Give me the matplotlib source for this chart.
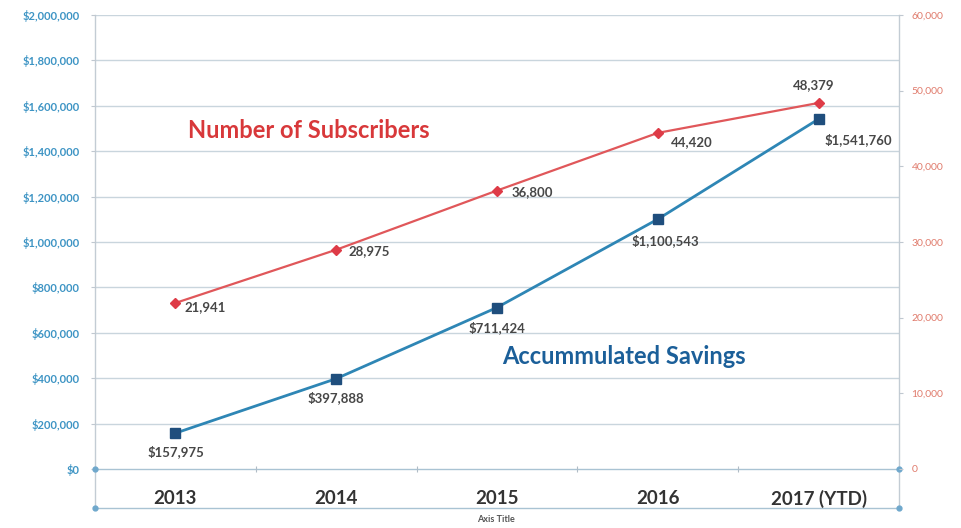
import matplotlib
matplotlib.use("Agg")
import matplotlib.pyplot as plt
from matplotlib.ticker import FuncFormatter

categories = ["2013", "2014", "2015", "2016", "2017 (YTD)"]
savings = [157975, 397888, 711424, 1100543, 1541760]
subscribers = [21941, 28975, 36800, 44420, 48379]
left_ticks = list(range(0, 2000001, 200000))
right_ticks = list(range(0, 60001, 10000))

plt.rcParams['font.family'] = ['Lato', 'DejaVu Sans']

fig = plt.figure(figsize=(9.61, 5.28), dpi=100)
ax = fig.add_axes([95/961, 1-469/528, (899-95)/961, (469-15)/528])
ax2 = ax.twinx()

x = list(range(len(categories)))
ax.set_xlim(-0.5, len(categories) - 0.5)
ax.set_ylim(0, 2000000)
ax2.set_ylim(0, 60000)

grid_c = "#c9d5dd"
ax.set_yticks(left_ticks)
ax.yaxis.set_major_formatter(FuncFormatter(lambda v, p: "$0" if v == 0 else f"${int(v):,}"))
ax.tick_params(axis='y', colors="#c0c8d0", labelcolor="#3d94c4", labelsize=8, length=3, width=0.8, pad=8)
for lab in ax.get_yticklabels():
    lab.set_fontweight('bold')
for t in left_ticks[1:]:
    ax.axhline(t, color=grid_c, lw=1.0, zorder=0)

ax2.set_yticks(right_ticks)
ax2.yaxis.set_major_formatter(FuncFormatter(lambda v, p: f"{int(v):,}"))
ax2.tick_params(axis='y', colors="#c0c8d0", labelcolor="#e07b6c", labelsize=7.5, length=3, width=0.8, pad=6)

ax.set_xticks(x)
ax.set_xticklabels(categories, fontsize=13.5, fontweight='bold', color="#333333")
ax.tick_params(axis='x', length=0, pad=15)
ax.set_xticks([i + 0.5 for i in x[:-1]], minor=True)
ax.tick_params(axis='x', which='minor', length=4, direction='inout', color="#b0bcc6", width=0.8)

for a in (ax, ax2):
    for s in a.spines.values():
        s.set_visible(False)

# frame lines in axes coordinates
line_c = "#a9c3d3"
yb = -39/454
for yy in (0, yb):
    ax.plot([0, 1], [yy, yy], transform=ax.transAxes, color=line_c, lw=1.0, clip_on=False, zorder=1)
    ax.plot([0, 1], [yy, yy], transform=ax.transAxes, ls='none', marker='o', ms=3.5,
            color="#6fa8cc", clip_on=False, zorder=2)
for xx in (0, 1):
    ax.plot([xx, xx], [yb, 1], transform=ax.transAxes, color="#c3ccd4", lw=1.0, clip_on=False, zorder=1)

# series
ax.plot(x, savings, color="#2e86b5", lw=2.0, marker='s', ms=6.5, mfc="#1f4e7d", mec="#1f4e7d", zorder=4)
ax2.plot(x, subscribers, color="#e0575a", lw=1.6, marker='D', ms=5, mfc="#de3b47", mec="#de3b47", zorder=4)

lab_c = "#474747"
sub_off = [(30, -4), (33, -1), (35, -2), (34, -9), (-5, 18)]
for xi, v, off in zip(x, subscribers, sub_off):
    ax2.annotate(f"{v:,}", (xi, v), xytext=off, textcoords='offset pixels', ha='center', va='center',
                 fontsize=9.5, fontweight='bold', color=lab_c)
sav_off = [(0, -18), (0, -19), (0, -20), (8, -21), (40, -21)]
for xi, v, off in zip(x, savings, sav_off):
    ax.annotate(f"${v:,}", (xi, v), xytext=off, textcoords='offset pixels', ha='center', va='center',
                fontsize=9.5, fontweight='bold', color=lab_c)

fig.text(309/961, 1-131/528, "Number of Subscribers", fontsize=17, fontweight='bold', color="#d8383a",
         ha='center', va='center')
fig.text(624/961, 1-357/528, "Accummulated Savings", fontsize=17, fontweight='bold', color="#1b5f99",
         ha='center', va='center')
fig.text(496/961, 1-520/528, "Axis Title", fontsize=6.5, fontweight='bold', color="#555555",
         ha='center', va='center')

fig.savefig("out.png", dpi=100)
